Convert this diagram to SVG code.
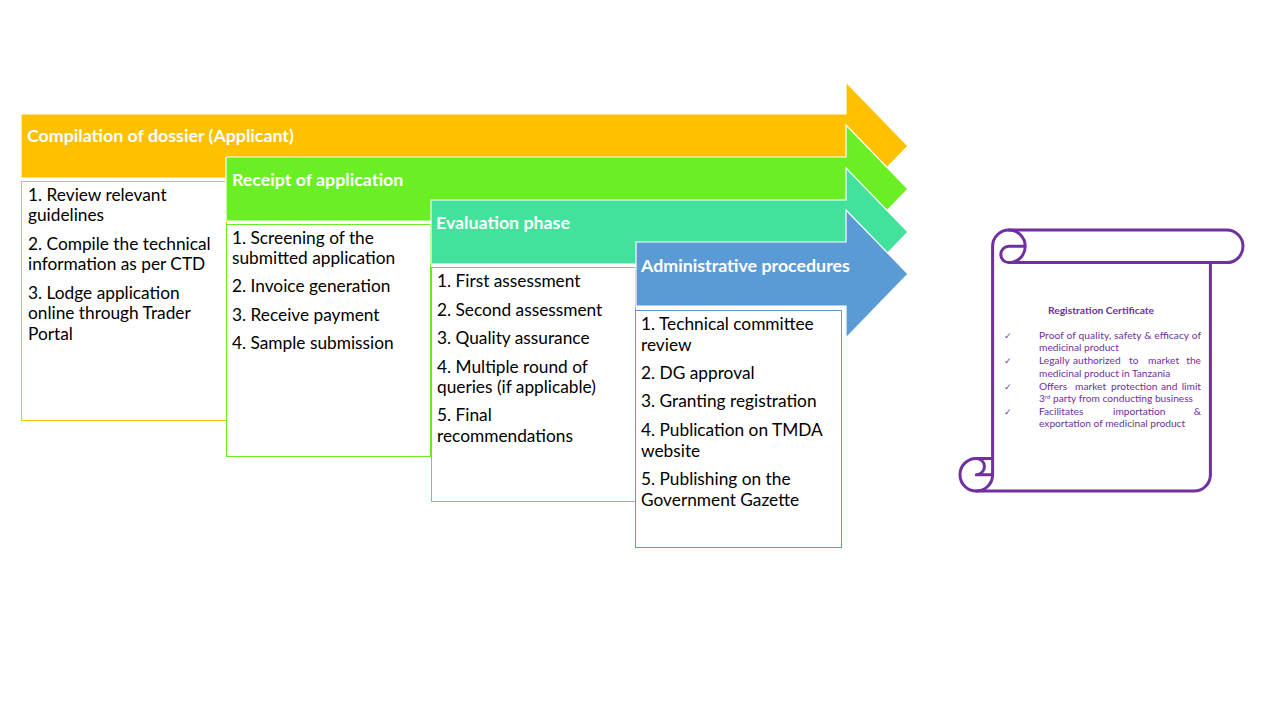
<svg xmlns="http://www.w3.org/2000/svg" width="1280" height="720" viewBox="0 0 1280 720">
<style>
.arrow{stroke:#ffffff;stroke-width:1.2}
.box{fill:#ffffff;stroke-width:1}
.hdr{font-family:Lato,"Liberation Sans",sans-serif;font-weight:bold;font-size:17.8px;fill:#ffffff}
.txt{font-family:Lato,"Liberation Sans",sans-serif;font-size:17.3px;fill:#000000}
.scroll{fill:#ffffff;stroke:#7030A0;stroke-width:3;stroke-linejoin:round}
.curl{fill:none;stroke:#7030A0;stroke-width:3;stroke-linecap:round;stroke-linejoin:round}
.st{font-family:Lato,"Liberation Sans",sans-serif;font-size:10.2px;fill:#7030A0}
.stb{font-family:Lato,"Liberation Sans",sans-serif;font-size:10.3px;font-weight:bold;fill:#7030A0}
.chk{font-family:"DejaVu Sans",sans-serif;font-size:9px;fill:#7030A0}
</style>
<rect width="1280" height="720" fill="#ffffff"/>

<g id="stage1">
  <path class="arrow" fill="#FFC000" d="M21,114 H846 V82 L908,146 L846,210 V178 H21 Z"/>
  <rect class="box" x="21.5" y="181.5" width="205" height="239" stroke="#FFC000"/>
  <text class="hdr" x="27" y="142">Compilation of dossier (Applicant)</text>
  <text class="txt" x="28" y="201">1. Review relevant</text>
  <text class="txt" x="28" y="221">guidelines</text>
  <text class="txt" x="28" y="250">2. Compile the technical</text>
  <text class="txt" x="28" y="270">information as per CTD</text>
  <text class="txt" x="28" y="299">3. Lodge application</text>
  <text class="txt" x="28" y="319">online through Trader</text>
  <text class="txt" x="28" y="340">Portal</text>
</g>

<g id="stage2">
  <path class="arrow" fill="#69EF23" d="M226,157 H846 V125 L908,189 L846,253 V221 H226 Z"/>
  <rect class="box" x="226.5" y="224.5" width="204" height="232" stroke="#66EE22"/>
  <text class="hdr" x="232" y="186">Receipt of application</text>
  <text class="txt" x="232" y="244">1. Screening of the</text>
  <text class="txt" x="232" y="264">submitted application</text>
  <text class="txt" x="232" y="292">2. Invoice generation</text>
  <text class="txt" x="232" y="321">3. Receive payment</text>
  <text class="txt" x="232" y="349">4. Sample submission</text>
</g>

<g id="stage3">
  <path class="arrow" fill="#42E19C" d="M431,200 H846 V168 L908,232 L846,296 V264 H431 Z"/>
  <rect class="box" x="431.5" y="267.5" width="204" height="234" stroke="#42E19C"/>
  <text class="hdr" x="436" y="229">Evaluation phase</text>
  <text class="txt" x="437" y="287">1. First assessment</text>
  <text class="txt" x="437" y="316">2. Second assessment</text>
  <text class="txt" x="437" y="344">3. Quality assurance</text>
  <text class="txt" x="437" y="373">4. Multiple  round of</text>
  <text class="txt" x="437" y="393">queries (if applicable)</text>
  <text class="txt" x="437" y="421">5. Final</text>
  <text class="txt" x="437" y="442">recommendations</text>
</g>

<g id="stage4">
  <path class="arrow" fill="#5B9BD5" d="M636,242 H846 V210 L908,274 L846,338 V306 H636 Z"/>
  <rect class="box" x="635.5" y="310.5" width="206" height="237" stroke="#5B9BD5"/>
  <text class="hdr" x="641" y="272">Administrative procedures</text>
  <text class="txt" x="641" y="330">1. Technical committee</text>
  <text class="txt" x="641" y="351">review</text>
  <text class="txt" x="641" y="379">2. DG approval</text>
  <text class="txt" x="641" y="407">3. Granting registration</text>
  <text class="txt" x="641" y="436">4. Publication on TMDA</text>
  <text class="txt" x="641" y="457">website</text>
  <text class="txt" x="641" y="485">5. Publishing on the</text>
  <text class="txt" x="641" y="506">Government Gazette</text>
</g>

<g id="certificate">
  <path class="scroll" d="M992.6,458.4 V246.3 A16.3,16.3 0 0 1 1008.9,230 H1226.7 A16.3,16.3 0 0 1 1226.7,262.6 H1210.4 V474.7 A16.3,16.3 0 0 1 1194.1,491 H976.3 A16.3,16.3 0 0 1 976.3,458.4 Z"/>
  <path class="curl" d="M1008.9,230 A16.3,16.3 0 0 1 1008.9,262.6 A8.15,8.15 0 0 1 1008.9,246.3 H1025.2"/>
  <path class="curl" d="M1210.4,262.6 H1008.9"/>
  <path class="curl" d="M976.3,458.4 A8.15,8.15 0 0 1 976.3,474.7 H992.6"/>
  <path class="curl" d="M976.3,491 A16.3,16.3 0 0 0 992.6,474.7 V458.4"/>
  <text class="stb" x="1101" y="314" text-anchor="middle">Registration Certificate</text>
  <text class="chk" x="1004" y="339">✓</text>
  <text class="chk" x="1004" y="364">✓</text>
  <text class="chk" x="1004" y="390">✓</text>
  <text class="chk" x="1004" y="415">✓</text>
  <text class="st" x="1039" y="339" textLength="162" lengthAdjust="spacing">Proof of quality, safety &amp; efficacy of</text>
  <text class="st" x="1039" y="351">medicinal product</text>
  <text class="st" x="1039" y="364">Legally</text>
  <text class="st" x="1073" y="364">authorized</text>
  <text class="st" x="1129" y="364">to</text>
  <text class="st" x="1148" y="364">market</text>
  <text class="st" x="1201" y="364" text-anchor="end">the</text>
  <text class="st" x="1039" y="377">medicinal product in Tanzania</text>
  <text class="st" x="1039" y="390">Offers</text>
  <text class="st" x="1075" y="390">market</text>
  <text class="st" x="1111" y="390">protection</text>
  <text class="st" x="1161" y="390">and</text>
  <text class="st" x="1201" y="390" text-anchor="end">limit</text>
  <text class="st" x="1039" y="402">3<tspan font-size="6px" dy="-3">rd</tspan><tspan dy="3"> party from conducting business</tspan></text>
  <text class="st" x="1039" y="415">Facilitates</text>
  <text class="st" x="1113" y="415">importation</text>
  <text class="st" x="1201" y="415" text-anchor="end">&amp;</text>
  <text class="st" x="1039" y="427">exportation of medicinal product</text>
</g>
</svg>
